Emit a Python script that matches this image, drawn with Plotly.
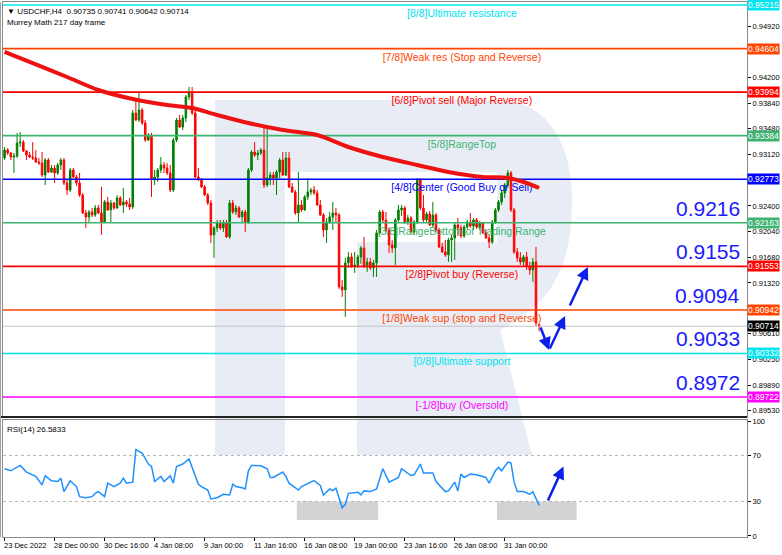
import plotly.graph_objects as go

# ---------------- data ----------------
opens = [0.93071,0.93183,0.93141,0.93085,0.93099,0.93281,0.93295,0.93169,0.93113,0.93085,
         0.93071,0.93015,0.93001,0.92833,0.93043,0.92875,0.92931,0.92861,0.92973,0.93043,
         0.92721,0.92623,0.92903,0.92805,0.92721,0.92553,0.92301,0.92245,0.92315,0.92273,
         0.92371,0.92301,0.92175,0.92455,0.92343,0.92441,0.92371,0.92511,0.92413,0.92455,
         0.92427,0.92385,0.93702,0.93604,0.93744,0.93562,0.93323,0.93394,0.92763,0.92805,
         0.92903,0.92973,0.92931,0.92861,0.92623,0.93323,0.93604,0.93506,0.93632,0.93926,
         0.93996,0.93702,0.92805,0.92763,0.92665,0.92553,0.92441,0.91993,0.92091,0.92161,
         0.92091,0.92161,0.91965,0.92441,0.92315,0.92371,0.92245,0.92315,0.92175,0.92903,
         0.93155,0.93113,0.93141,0.93183,0.92693,0.92791,0.92833,0.92791,0.92875,0.93043,
         0.92833,0.93071,0.92665,0.92595,0.92301,0.92413,0.92343,0.92525,0.92595,0.92623,
         0.92581,0.92413,0.92273,0.92063,0.92175,0.92245,0.92301,0.92273,0.91265,0.91223,
         0.91601,0.91685,0.91545,0.91573,0.91685,0.91811,0.91545,0.91615,0.91531,0.91601,
         0.92021,0.92315,0.92203,0.92063,0.91853,0.91811,0.92203,0.92343,0.92371,0.92175,
         0.92231,0.92035,0.92175,0.92763,0.92371,0.92203,0.92287,0.92133,0.92273,0.92063,
         0.91825,0.91755,0.91713,0.91923,0.91951,0.92133,0.92091,0.91979,0.92105,0.92175,
         0.92119,0.92203,0.92105,0.92161,0.92021,0.91951,0.91895,0.92175,0.92343,0.92455,
         0.92581,0.92693,0.92861,0.92343,0.91755,0.91671,0.91615,0.91685,0.91545,0.91503,
         0.91615,0.90735]
highs = [0.93225,0.93211,0.93155,0.93141,0.93422,0.93436,0.93323,0.93183,0.93155,0.93295,
         0.93183,0.93071,0.93155,0.93071,0.93071,0.92973,0.92973,0.93001,0.93071,0.93071,
         0.92763,0.92931,0.92931,0.92833,0.92861,0.92581,0.92343,0.92343,0.92371,0.92413,
         0.92413,0.92665,0.92483,0.92525,0.92483,0.92455,0.92553,0.92539,0.92651,0.92483,
         0.92511,0.93744,0.93884,0.93982,0.93772,0.93604,0.93422,0.93422,0.92903,0.92931,
         0.93085,0.93015,0.93001,0.92973,0.93352,0.93632,0.93674,0.93674,0.93954,0.94066,
         0.94066,0.93744,0.92931,0.92791,0.92693,0.92581,0.92483,0.92119,0.92203,0.92203,
         0.92203,0.92203,0.92483,0.92483,0.92413,0.92399,0.92343,0.92343,0.92931,0.93183,
         0.93295,0.93183,0.93211,0.93534,0.93506,0.92875,0.92875,0.92903,0.93071,0.93155,
         0.93155,0.93155,0.92721,0.92623,0.92875,0.92483,0.92553,0.92791,0.92651,0.92679,
         0.92623,0.92483,0.92301,0.92231,0.92315,0.92455,0.92371,0.92301,0.91363,0.91671,
         0.91755,0.91741,0.91755,0.91713,0.91839,0.91965,0.91671,0.91671,0.91643,0.92063,
         0.92343,0.92343,0.92315,0.92091,0.91923,0.92231,0.92413,0.92413,0.92399,0.92273,
         0.92259,0.92203,0.92791,0.92791,0.92553,0.92315,0.92329,0.92455,0.92301,0.92091,
         0.91881,0.91923,0.91951,0.91993,0.92175,0.92231,0.92133,0.92133,0.92203,0.92301,
         0.92231,0.92231,0.92189,0.92175,0.92063,0.91993,0.92203,0.92371,0.92483,0.92623,
         0.92721,0.92903,0.92889,0.92371,0.91811,0.91755,0.91713,0.91755,0.91615,0.91671,
         0.91825,0.90741]
lows = [0.93043,0.93113,0.93043,0.92861,0.93071,0.93225,0.93155,0.93043,0.93071,0.93043,
        0.93001,0.92973,0.92805,0.92693,0.92861,0.92861,0.92721,0.92833,0.92903,0.92693,
        0.92553,0.92595,0.92791,0.92679,0.92525,0.92287,0.92091,0.92161,0.92245,0.92245,
        0.92287,0.91993,0.92161,0.92329,0.92161,0.92343,0.92357,0.92399,0.92301,0.92385,
        0.92343,0.92357,0.93590,0.93576,0.93534,0.93295,0.93309,0.92525,0.92693,0.92735,
        0.92861,0.92861,0.92833,0.92595,0.92595,0.93295,0.93492,0.93464,0.93576,0.93884,
        0.93674,0.92791,0.92749,0.92651,0.92539,0.92413,0.91881,0.91671,0.92035,0.92063,
        0.92035,0.91951,0.91937,0.92287,0.92273,0.92231,0.92175,0.92035,0.92147,0.92875,
        0.93085,0.93043,0.93113,0.92651,0.92665,0.92693,0.92693,0.92553,0.92791,0.92819,
        0.92819,0.92651,0.92581,0.92273,0.92175,0.92315,0.92329,0.92483,0.92553,0.92553,
        0.92399,0.92259,0.91965,0.91881,0.92147,0.92063,0.92175,0.91237,0.91125,0.90845,
        0.91531,0.91531,0.91461,0.91531,0.91587,0.91531,0.91475,0.91503,0.91405,0.91405,
        0.91993,0.92175,0.92035,0.91741,0.91741,0.91573,0.92175,0.92259,0.92147,0.92133,
        0.92021,0.91993,0.92147,0.92343,0.92175,0.92175,0.92119,0.92105,0.92035,0.91811,
        0.91741,0.91685,0.91615,0.91615,0.91643,0.91979,0.91951,0.91951,0.92077,0.92091,
        0.92077,0.92077,0.92063,0.92007,0.91937,0.91811,0.91867,0.92147,0.92315,0.92413,
        0.92511,0.92651,0.92315,0.91727,0.91615,0.91573,0.91559,0.91503,0.91433,0.91335,
        0.90720,0.90642]
closes = [0.93183,0.93141,0.93085,0.93099,0.93281,0.93295,0.93169,0.93113,0.93085,0.93071,
          0.93015,0.93001,0.92833,0.93043,0.92875,0.92931,0.92861,0.92973,0.93043,0.92721,
          0.92623,0.92903,0.92805,0.92721,0.92553,0.92301,0.92245,0.92315,0.92273,0.92371,
          0.92301,0.92175,0.92455,0.92343,0.92441,0.92371,0.92511,0.92413,0.92455,0.92427,
          0.92385,0.93702,0.93604,0.93744,0.93562,0.93323,0.93394,0.92763,0.92805,0.92903,
          0.92973,0.92931,0.92861,0.92623,0.93323,0.93604,0.93506,0.93632,0.93926,0.93996,
          0.93702,0.92805,0.92763,0.92665,0.92553,0.92441,0.91993,0.92091,0.92161,0.92091,
          0.92161,0.91965,0.92441,0.92315,0.92371,0.92245,0.92315,0.92175,0.92903,0.93155,
          0.93113,0.93141,0.93183,0.92693,0.92791,0.92833,0.92791,0.92875,0.93043,0.92833,
          0.93071,0.92665,0.92595,0.92301,0.92413,0.92343,0.92525,0.92595,0.92623,0.92581,
          0.92413,0.92273,0.92063,0.92175,0.92245,0.92301,0.92273,0.91265,0.91223,0.91601,
          0.91685,0.91545,0.91573,0.91685,0.91811,0.91545,0.91615,0.91531,0.91601,0.92021,
          0.92315,0.92203,0.92063,0.91853,0.91811,0.92203,0.92343,0.92371,0.92175,0.92231,
          0.92035,0.92175,0.92763,0.92371,0.92203,0.92287,0.92133,0.92273,0.92063,0.91825,
          0.91755,0.91713,0.91923,0.91951,0.92133,0.92091,0.91979,0.92105,0.92175,0.92119,
          0.92203,0.92105,0.92161,0.92021,0.91951,0.91895,0.92175,0.92343,0.92455,0.92581,
          0.92693,0.92861,0.92343,0.91755,0.91671,0.91615,0.91685,0.91545,0.91503,0.91615,
          0.90760,0.90714]

# moving average (read at selected bars)
ma_idx = [0, 9, 20, 30, 41, 52, 60, 68, 78, 89, 100, 110, 121, 132, 142, 153, 161, 167, 171]
ma_vals = [0.94557, 0.94402, 0.94206, 0.94024, 0.93898, 0.93814, 0.93772, 0.93674, 0.93562,
           0.93464, 0.93394, 0.93225, 0.93085, 0.92973, 0.92875, 0.92805, 0.92791, 0.92721, 0.92651]

# RSI(14) read at selected bars
rsi_idx = [0, 2, 5, 7, 10, 12, 13, 15, 17, 18, 19, 21, 23, 24, 26, 28, 29, 30, 32, 33,
           35, 37, 38, 39, 41, 42, 44, 46, 47, 48, 50, 51, 53, 54, 55, 57, 59, 62, 63, 65,
           66, 68, 70, 72, 73, 74, 76, 77, 78, 79, 82, 84, 85, 86, 89, 90, 91, 94, 95, 99,
           101, 102, 104, 105, 106, 107, 108, 109, 110, 113, 114, 115, 117, 119, 121, 123,
           126, 127, 130, 131, 133, 134, 137, 138, 141, 142, 144, 145, 146, 147, 149, 151,
           154, 155, 157, 158, 159, 161, 162, 163, 164, 166, 168, 169, 170, 171]
rsi_vals = [58.5, 56.7, 61.4, 55.6, 51.8, 44.4, 52.3, 48.0, 47.4, 50.3, 38.6, 48.0, 43.0, 34.2,
            33.3, 34.2, 37.1, 38.6, 34.2, 45.9, 43.0, 45.9, 50.3, 45.9, 46.8, 75.1, 72.2, 62.6,
            60.5, 47.4, 51.8, 47.4, 52.3, 45.9, 60.5, 62.6, 67.0, 45.0, 43.0, 40.0, 32.2, 33.3,
            36.3, 35.7, 45.0, 43.0, 42.0, 40.9, 56.7, 61.4, 61.1, 58.5, 50.9, 50.9, 55.6, 51.8,
            45.9, 40.0, 43.0, 48.2, 43.9, 35.7, 40.9, 39.5, 41.5, 33.3, 24.6, 27.5, 37.1, 38.0,
            35.7, 39.2, 38.6, 40.9, 58.5, 46.8, 50.9, 58.5, 52.6, 53.2, 62.6, 54.7, 54.7, 47.4,
            38.6, 39.2, 46.8, 39.2, 53.8, 50.9, 53.8, 53.2, 50.9, 45.9, 56.7, 59.6, 56.7, 64.3,
            63.5, 46.8, 38.6, 38.6, 36.3, 38.6, 32.2, 26.5833]

x_label_idx = [0, 16, 32, 48, 64, 80, 96, 112, 128, 144, 160]
x_labels = ["23 Dec 2022", "28 Dec 00:00", "30 Dec 16:00", "4 Jan 08:00", "9 Jan 00:00",
            "11 Jan 16:00", "16 Jan 08:00", "19 Jan 00:00", "23 Jan 16:00", "26 Jan 08:00",
            "31 Jan 00:00"]

murrey_levels = [0.95215, 0.94604, 0.93994, 0.93384, 0.92773, 0.92163, 0.91553, 0.90942, 0.90332, 0.89722]
murrey_names = ["[8/8]Ultimate resistance", "[7/8]Weak res (Stop and Reverse)",
                "[6/8]Pivot sell (Major Reverse)", "[5/8]RangeTop",
                "[4/8]Center (Good Buy or Sell)", "[3/8]RangeBottom of Trading Range",
                "[2/8]Pivot buy (Reverse)", "[1/8]Weak sup (stop and Reverse)",
                "[0/8]Ultimate support", "[-1/8]buy (Oversold)"]
murrey_colors = ["#00e4f0", "#ff4500", "#ff0000", "#3cb371", "#0000ff",
                 "#3cb371", "#ff0000", "#ff4500", "#00e4f0", "#ff00ff"]
target_labels = ["0.9216", "0.9155", "0.9094", "0.9033", "0.8972"]
target_levels = [0.92163, 0.91553, 0.90942, 0.90332, 0.89722]
last_price = 0.90714
rsi_value_text = "26.5833"
y_ticks = [0.89530, 0.89890, 0.90250, 0.90610, 0.91320, 0.91680, 0.92040,
           0.92400, 0.93120, 0.93480, 0.93840, 0.94200, 0.94560, 0.94920]

# forecast arrows (tail x, tail y, head x, head y)
price_arrows = [(171.3, 0.90717, 174.2, 0.90381),
                (174.2, 0.90381, 179.3, 0.90857),
                (180.6, 0.90983, 186.6, 0.91545)]
rsi_arrow = (173.6, 29.5, 178.8, 60.5)
rsi_boxes = [(93.5, 119.5), (157.5, 183.0)]

# ---------------- layout helpers ----------------
W, H = 782, 555
ML, MR, MT, MB = 3, 35, 2, 18
PW, PH = W - ML - MR, H - MT - MB
main_bottom = (H - MB - 417) / PH
rsi_top = (H - MB - 420) / PH
X_RANGE = [-0.5, 237.5]
FONT = "Liberation Sans, Arial, sans-serif"


def P(x, y):
    return f"{(x - ML) / PW:.4f},{1 - (y - MT) / PH:.4f}"


logo_path = (f"M {P(215,100)} L {P(497,100)} C {P(545,100)} {P(572,140)} {P(572,200)} "
             f"C {P(572,255)} {P(560,300)} {P(500,330)} L {P(532,455)} L {P(357,455)} "
             f"L {P(357,242)} L {P(497,242)} L {P(497,172)} L {P(285,172)} L {P(285,455)} "
             f"L {P(215,455)} Z")

xs = list(range(len(closes)))
fig = go.Figure()

# Murrey text labels (beneath candles); invisible marker adds the gap below the line
fig.add_trace(go.Scatter(
    x=[146.3] * len(murrey_levels), y=murrey_levels, mode="markers+text", text=murrey_names,
    marker=dict(size=5, opacity=0), textposition="bottom center",
    textfont=dict(color=murrey_colors, size=10.5, family=FONT),
    hoverinfo="skip", showlegend=False, xaxis="x", yaxis="y", cliponaxis=False))

fig.add_trace(go.Candlestick(
    x=xs, open=opens, high=highs, low=lows, close=closes,
    increasing=dict(line=dict(color="#008000", width=1), fillcolor="#008000"),
    decreasing=dict(line=dict(color="#ff0000", width=1), fillcolor="#ff0000"),
    whiskerwidth=0, showlegend=False, xaxis="x", yaxis="y", hoverinfo="skip"))

# current price line
fig.add_trace(go.Scatter(x=X_RANGE, y=[last_price, last_price], mode="lines",
                         line=dict(color="#c4c4c4", width=1), showlegend=False,
                         hoverinfo="skip", xaxis="x", yaxis="y"))
# Murrey lines
for lvl, col in zip(murrey_levels, murrey_colors):
    fig.add_trace(go.Scatter(x=X_RANGE, y=[lvl, lvl], mode="lines",
                             line=dict(color=col, width=1.6), showlegend=False,
                             hoverinfo="skip", xaxis="x", yaxis="y"))

# MA
fig.add_trace(go.Scatter(x=ma_idx, y=ma_vals, mode="lines",
                         line=dict(color="#ee1111", width=4, shape="spline", smoothing=0.8),
                         showlegend=False, hoverinfo="skip", xaxis="x", yaxis="y"))

# RSI
fig.add_trace(go.Scatter(x=rsi_idx, y=rsi_vals, mode="lines",
                         line=dict(color="#1e90ff", width=1.5), showlegend=False,
                         hoverinfo="skip", xaxis="x2", yaxis="y2"))

shapes = [dict(type="path", path=logo_path, xref="paper", yref="paper",
               fillcolor="#e8edf5", line=dict(width=0), layer="below")]
for x0, x1 in rsi_boxes:
    shapes.append(dict(type="rect", xref="x2", yref="y2", x0=x0, x1=x1, y0=14, y1=30,
                       fillcolor="#d3d3d3", line=dict(width=0), layer="below"))
for lv in (70, 30):
    shapes.append(dict(type="line", xref="x2", yref="y2", x0=X_RANGE[0], x1=X_RANGE[1],
                       y0=lv, y1=lv, line=dict(color="#b8b8b8", width=1, dash="dot"),
                       layer="below"))
# separator between panels
shapes.append(dict(type="line", xref="paper", yref="paper", x0=-ML / PW, x1=1,
                   y0=main_bottom, y1=main_bottom, line=dict(color="#222222", width=2)))
shapes.append(dict(type="line", xref="paper", yref="paper", x0=-ML / PW, x1=-ML / PW,
                   y0=0, y1=1, line=dict(color="#a0a0a0", width=2)))

annotations = []
# right-axis price boxes
for lvl, col in zip(murrey_levels, murrey_colors):
    annotations.append(dict(xref="paper", yref="y", x=1, y=lvl, xanchor="left", xshift=0,
                            text=f"{lvl:.5f}", showarrow=False, bgcolor=col, borderpad=0,
                            font=dict(color="white", size=8.5, family=FONT)))
annotations.append(dict(xref="paper", yref="y", x=1, y=last_price, xanchor="left",
                        text=f"{last_price:.5f}", showarrow=False, bgcolor="#000000",
                        borderpad=0, font=dict(color="white", size=8.5, family=FONT)))
# big target numbers
for txt, lvl in zip(target_labels, target_levels):
    annotations.append(dict(xref="paper", yref="y", x=(742 - ML) / PW, y=lvl,
                            xanchor="right", yanchor="bottom", yshift=1, text=txt,
                            showarrow=False, font=dict(color="#1a1aff", size=21, family=FONT)))
# header texts
annotations.append(dict(xref="paper", yref="paper", x=0, y=1, xanchor="left", yanchor="top",
                        xshift=2, yshift=-3, showarrow=False,
                        text="\u25bc USDCHF,H4  0.90735 0.90741 0.90642 0.90714",
                        font=dict(size=8, color="#000", family=FONT)))
annotations.append(dict(xref="paper", yref="paper", x=0, y=1, xanchor="left", yanchor="top",
                        xshift=2, yshift=-14, showarrow=False, text="Murrey Math 217 day frame",
                        font=dict(size=8, color="#000", family=FONT)))
annotations.append(dict(xref="paper", yref="paper", x=0, y=rsi_top, xanchor="left",
                        yanchor="top", xshift=2, yshift=-3, showarrow=False,
                        text=f"RSI(14) {rsi_value_text}",
                        font=dict(size=8, color="#000", family=FONT)))
# x labels
for xi, lab in zip(x_label_idx, x_labels):
    annotations.append(dict(xref="x2", yref="paper", x=xi, y=0, xanchor="left",
                            yanchor="top", xshift=-3, yshift=-2, showarrow=False, text=lab,
                            font=dict(size=7.5, color="#000", family=FONT)))
# arrows
for tx, ty, hx, hy in price_arrows:
    annotations.append(dict(xref="x", yref="y", axref="x", ayref="y", x=hx, y=hy, ax=tx, ay=ty,
                            showarrow=True, arrowhead=2, arrowsize=1, arrowwidth=2.5,
                            arrowcolor="#0b20e8", text=""))
tx, ty, hx, hy = rsi_arrow
annotations.append(dict(xref="x2", yref="y2", axref="x2", ayref="y2", x=hx, y=hy, ax=tx, ay=ty,
                        showarrow=True, arrowhead=2, arrowsize=1, arrowwidth=2.5,
                        arrowcolor="#0b20e8", text=""))

fig.update_layout(
    width=W, height=H, margin=dict(l=ML, r=MR, t=MT, b=MB, autoexpand=False),
    paper_bgcolor="white", plot_bgcolor="white", showlegend=False,
    font=dict(family=FONT, size=8, color="#000"),
    xaxis=dict(domain=[0, 1], range=X_RANGE, anchor="y", showticklabels=False, automargin=False,
               showgrid=False, zeroline=False, rangeslider=dict(visible=False),
               showline=True, mirror=True, linecolor="#8a8a8a", linewidth=1, ticks=""),
    yaxis=dict(domain=[main_bottom, 1], range=[0.89442, 0.95257], side="right", anchor="x",
               tickvals=y_ticks, ticktext=[f"{v:.5f}" for v in y_ticks], ticks="outside",
               ticklen=3, tickcolor="#000", tickfont=dict(size=7.5, family=FONT),
               automargin=False, showgrid=False, zeroline=False, showline=True, mirror=True,
               linecolor="#8a8a8a", linewidth=1),
    xaxis2=dict(domain=[0, 1], range=X_RANGE, anchor="y2", matches="x", showticklabels=False,
                tickvals=x_label_idx, ticks="outside", ticklen=3, tickcolor="#000",
                automargin=False, showgrid=False, zeroline=False, showline=True, mirror=True,
                linecolor="#8a8a8a", linewidth=1),
    yaxis2=dict(domain=[0, rsi_top], range=[-0.9, 100.9], side="right", anchor="x2",
                tickvals=[0, 30, 70, 100], ticks="outside", ticklen=3, tickcolor="#000",
                tickfont=dict(size=7.5, family=FONT), automargin=False, showgrid=False,
                zeroline=False, showline=True, mirror=True, linecolor="#8a8a8a", linewidth=1),
    shapes=shapes, annotations=annotations,
)

fig.write_html("out.html", config={"displayModeBar": False},
               post_script="document.body.style.margin='0';")
